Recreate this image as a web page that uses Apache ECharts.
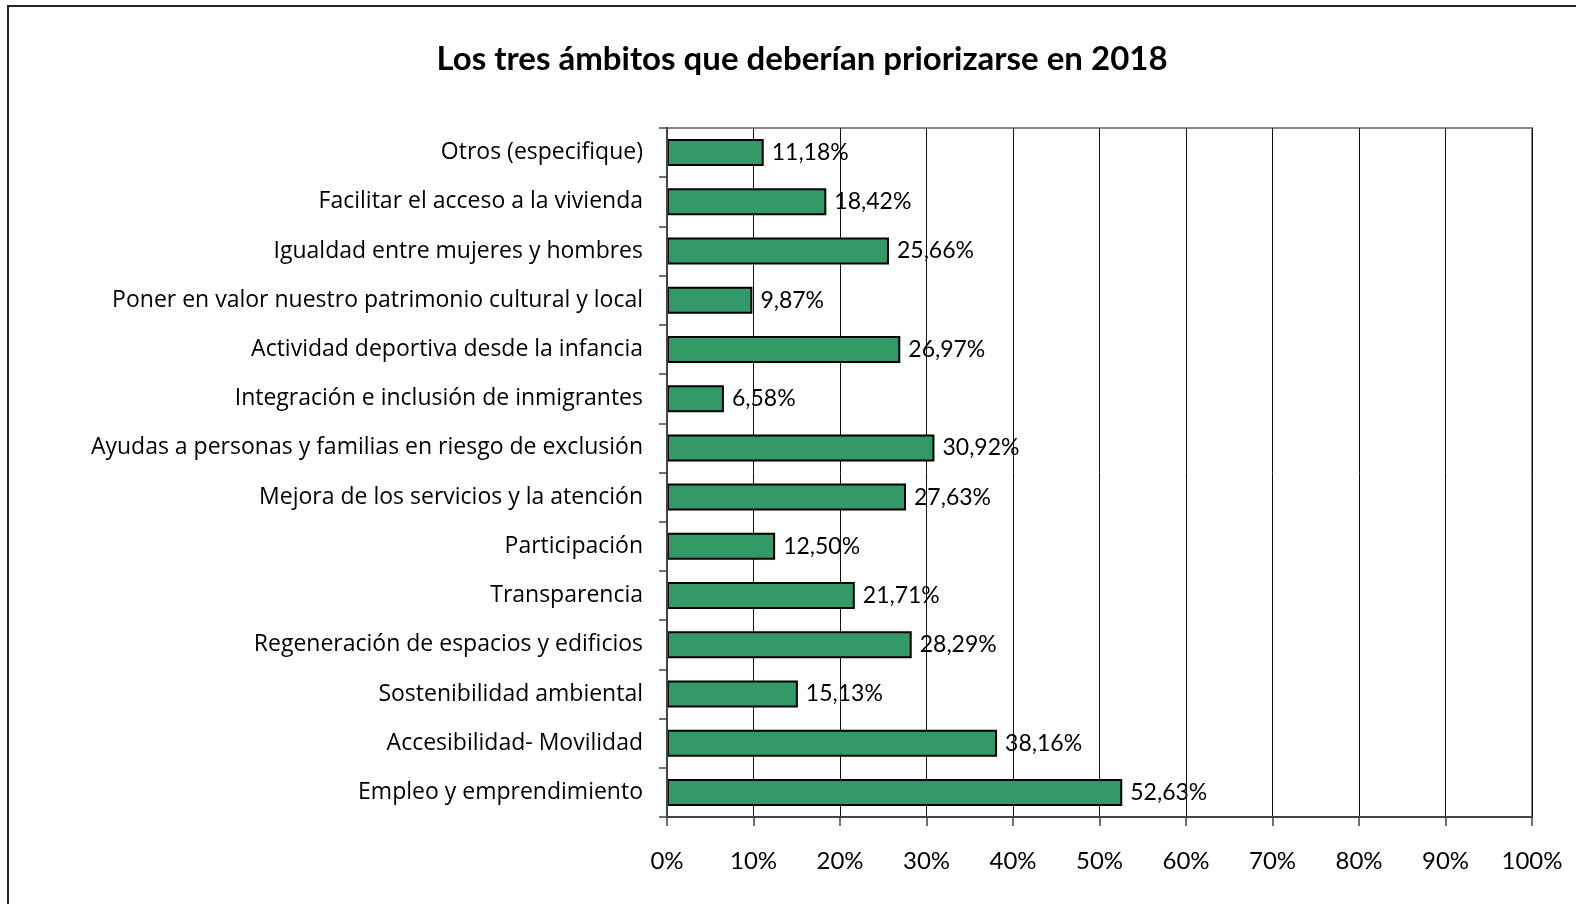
<!DOCTYPE html>
<html><head><meta charset="utf-8">
<script src="https://cdn.jsdelivr.net/npm/echarts@6/dist/echarts.min.js"></script>
<style>html,body{margin:0;padding:0;background:#fff}#c{width:1576px;height:904px}</style>
</head><body><div id="c"></div>
<script>
const titleText = 'Los tres ámbitos que deberían priorizarse en 2018';
const categories = [
  'Otros (especifique)',
  'Facilitar el acceso a la vivienda',
  'Igualdad entre mujeres y hombres',
  'Poner en valor nuestro patrimonio cultural y local',
  'Actividad deportiva desde la infancia',
  'Integración e inclusión de inmigrantes',
  'Ayudas a personas y familias en riesgo de exclusión',
  'Mejora de los servicios y la atención',
  'Participación',
  'Transparencia',
  'Regeneración de espacios y edificios',
  'Sostenibilidad ambiental',
  'Accesibilidad- Movilidad',
  'Empleo y emprendimiento'
];
const values = [11.18, 18.42, 25.66, 9.87, 26.97, 6.58, 30.92, 27.63, 12.50, 21.71, 28.29, 15.13, 38.16, 52.63];
const xTicks = [0, 10, 20, 30, 40, 50, 60, 70, 80, 90, 100];

const FONT = 'Lato';
const chart = echarts.init(document.getElementById('c'));
chart.setOption({
  animation: false,
  backgroundColor: '#fff',
  title: {
    text: titleText, left: 797, top: 38, textAlign: 'center',
    textStyle: {fontFamily: FONT, fontWeight: 'bold', fontSize: 33, color: '#000'}
  },
  graphic: [{
    type: 'rect', shape: {x: 8, y: 6, width: 2000, height: 2000},
    style: {fill: 'none', stroke: '#222', lineWidth: 2}, z: 100
  }],
  grid: {left: 667, right: 44, top: 128, bottom: 87, show: true, borderColor: '#888', borderWidth: 2, backgroundColor: 'transparent'},
  xAxis: {
    type: 'value', min: 0, max: 100, interval: 10, z: 1,
    axisLine: {show: true, lineStyle: {color: '#444', width: 2}},
    axisTick: {show: true, length: 9, lineStyle: {color: '#444', width: 1.5}},
    splitLine: {show: true, lineStyle: {color: '#111', width: 1}},
    axisLabel: {margin: 32, fontFamily: FONT, fontSize: 24, color: '#000',
      formatter: v => xTicks.includes(v) ? v + '%' : ''}
  },
  yAxis: {
    type: 'category', data: categories, inverse: true, z: 3,
    axisLine: {show: true, lineStyle: {color: '#444', width: 2}},
    axisTick: {show: true, length: 8, lineStyle: {color: '#444', width: 1.5}},
    axisLabel: {margin: 24, fontFamily: 'Open Sans', fontSize: 23, color: '#000', padding: [8, 0, 0, 0]}
  },
  series: [{
    type: 'bar', data: values, barWidth: 27, z: 2,
    itemStyle: {color: '#339966', borderColor: '#000', borderWidth: 2}
  }, {
    type: 'bar', data: values, barWidth: 27, barGap: '-100%', z: 0,
    itemStyle: {color: 'rgba(0,0,0,0)'},
    label: {show: true, position: 'right', distance: 8, fontFamily: FONT, fontSize: 23, color: '#000',
      padding: [7, 0, 0, 0],
      formatter: p => p.value.toFixed(2).replace('.', ',') + '%'}
  }]
});
</script></body></html>
